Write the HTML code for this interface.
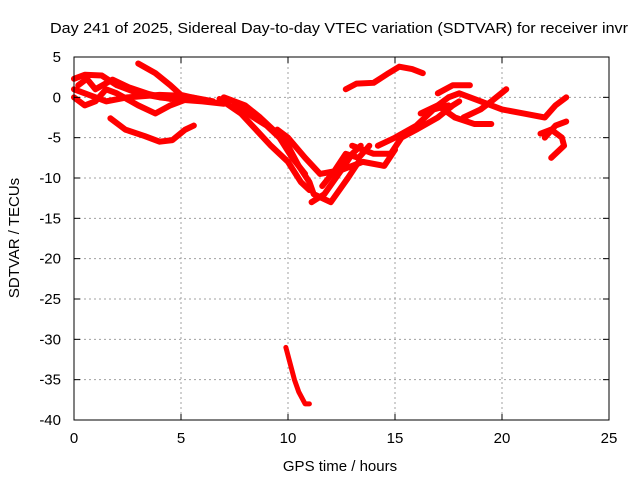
<!DOCTYPE html>
<html><head><meta charset="utf-8"><style>
body{margin:0;background:#fff;}
svg{display:block;font-family:"Liberation Sans",sans-serif;}
</style></head><body>
<svg id="chart" width="640" height="480">
<text x="339" y="33" text-anchor="middle" font-size="15" textLength="578" lengthAdjust="spacingAndGlyphs">Day 241 of 2025, Sidereal Day-to-day VTEC variation (SDTVAR) for receiver invr</text>
<text x="340" y="471" text-anchor="middle" font-size="15">GPS time / hours</text>
<text transform="translate(19,238) rotate(-90)" text-anchor="middle" font-size="15">SDTVAR / TECUs</text>
<g id="grid"></g>
<g id="series"></g>
<rect x="74" y="57" width="535" height="363" fill="none" stroke="#000" stroke-width="1"/>
<g id="ticks"></g>
</svg>
<script>
const xTicks=[0,5,10,15,20,25];
const yTicks=[5,0,-5,-10,-15,-20,-25,-30,-35,-40];
const sA=[[0,2.3],[0.5,2.8],[1.3,2.7],[2,1.5],[3,0.5],[4,0],[5,-0.3],[6,-0.5],[7,-0.8]];
const sB=[[0,0],[0.5,-1],[1,-0.5],[1.5,1],[2,0.5],[3,-1],[3.8,-2],[4.5,-1],[5.5,0],[6.5,-0.5]];
const sC=[[0,1],[0.8,0.2],[1.5,-0.5],[2.5,0],[4,0.3],[5,0.2],[6,-0.3]];
const sC2=[[0.2,1.5],[0.6,2.3],[1,1],[1.8,2.2],[2.6,1.2],[3.5,0.4],[4.5,-0.2]];
const sD=[[3,4.2],[3.8,3],[4.5,1.5],[5,0.3],[6,-0.3]];
const sE=[[1.7,-2.6],[2.4,-4],[3.3,-4.8],[4,-5.5],[4.6,-5.3],[5.2,-4],[5.6,-3.5]];
const sF=[[7,0],[8,-1],[8.7,-2.5],[9.3,-4],[10,-6],[10.5,-8.5],[11,-10.5],[11.2,-12],[12,-13],[12.8,-10],[13.3,-8]];
const sG=[[6.8,-0.2],[7.8,-2],[8.5,-4],[9.2,-6],[10,-8],[10.6,-10.5],[11,-11.5]];
const sG2=[[7.5,-0.8],[8.4,-2.5],[9,-3.5],[9.6,-5],[10.2,-7.5],[10.8,-9.5]];
const sH=[[9.5,-4],[10,-5],[10.8,-7.5],[11.5,-9.5],[12.5,-9],[13.5,-8],[14.5,-8.5],[15,-6.5]];
const sI=[[11.1,-13],[11.7,-12],[12.5,-9],[13,-7],[13.4,-6]];
const sI2=[[11.6,-11],[12.2,-9],[12.7,-7],[13.3,-7.5],[13.8,-6]];
const sK=[[13,-6],[14,-7],[14.8,-7],[15.3,-5],[16,-4],[17,-2.5],[17.7,-1],[18,-0.5]];
const sK2=[[14.2,-6],[15,-5],[16,-3.5],[16.8,-1.5],[17.5,-1]];
const sL=[[12.7,1],[13.2,1.7],[14,1.8],[14.7,3],[15.2,3.8],[15.8,3.5],[16.3,3]];
const sM=[[16.2,-2],[17,-1],[17.5,0],[18,0.5],[19,-0.5],[20,-1.5],[21,-2],[22,-2.5],[22.5,-1],[23,0]];
const sN=[[17,0.5],[17.7,1.5],[18.5,1.5]];
const sO=[[17,-1],[17.8,-2.5],[18.7,-3.3],[19.5,-3.3]];
const sP=[[18.2,-2.5],[19,-1.5],[19.5,-0.5],[20.2,1]];
const sQ=[[21.8,-4.5],[22.3,-4],[22.8,-5],[22.9,-6],[22.3,-7.5]];
const sR=[[22,-5],[22.5,-3.5],[23,-3]];
const sOut=[[9.9,-31],[10.1,-33],[10.3,-35],[10.5,-36.5],[10.8,-38],[11,-38]];
const allSeries=[sA,sB,sC,sC2,sD,sE,sF,sG,sG2,sH,sI,sI2,sK,sK2,sL,sM,sN,sO,sP,sQ,sR,sOut];

const L=74,R=609,T=57,B=420;
function xs(v){return L+(v-0)/(25-0)*(R-L);}
function ys(v){return T+(5-v)/(5-(-40))*(B-T);}
const NS="http://www.w3.org/2000/svg";
const grid=document.getElementById('grid'),ticks=document.getElementById('ticks'),ser=document.getElementById('series');
function mk(tag,attrs,parent){const e=document.createElementNS(NS,tag);for(const k in attrs)e.setAttribute(k,attrs[k]);parent.appendChild(e);return e;}
xTicks.forEach(v=>{
  const x=xs(v);
  if(v>0&&v<25){const g=mk('line',{x1:x,x2:x,y1:T,y2:B,stroke:'#a0a0a0','stroke-dasharray':'2,3'},grid);
  
  }
  mk('line',{x1:x,x2:x,y1:B,y2:B-6,stroke:'#000'},ticks);
  mk('line',{x1:x,x2:x,y1:T,y2:T+6,stroke:'#000'},ticks);
  const t=mk('text',{x:x,y:B+23,'text-anchor':'middle','font-size':'15'},ticks);
  t.textContent=v;
  
  
});
yTicks.forEach(v=>{
  const y=ys(v);
  if(v<5&&v>-40){const g=mk('line',{x1:L,x2:R,y1:y,y2:y,stroke:'#a0a0a0','stroke-dasharray':'2,3'},grid);
  
  }
  mk('line',{x1:L,x2:L+6,y1:y,y2:y,stroke:'#000'},ticks);
  mk('line',{x1:R,x2:R-6,y1:y,y2:y,stroke:'#000'},ticks);
  const t=mk('text',{x:L-13,y:y+5,'text-anchor':'end','font-size':'15'},ticks);
  t.textContent=v;
  
  
});
allSeries.forEach((s,i)=>{
  const p=mk('polyline',{points:s.map(d=>xs(d[0])+','+ys(d[1])).join(' '),fill:'none',stroke:'#ff0000','stroke-width':s===sOut?5:6,'stroke-linejoin':'round','stroke-linecap':'round'},ser);
  
  
});
</script>
</body></html>
